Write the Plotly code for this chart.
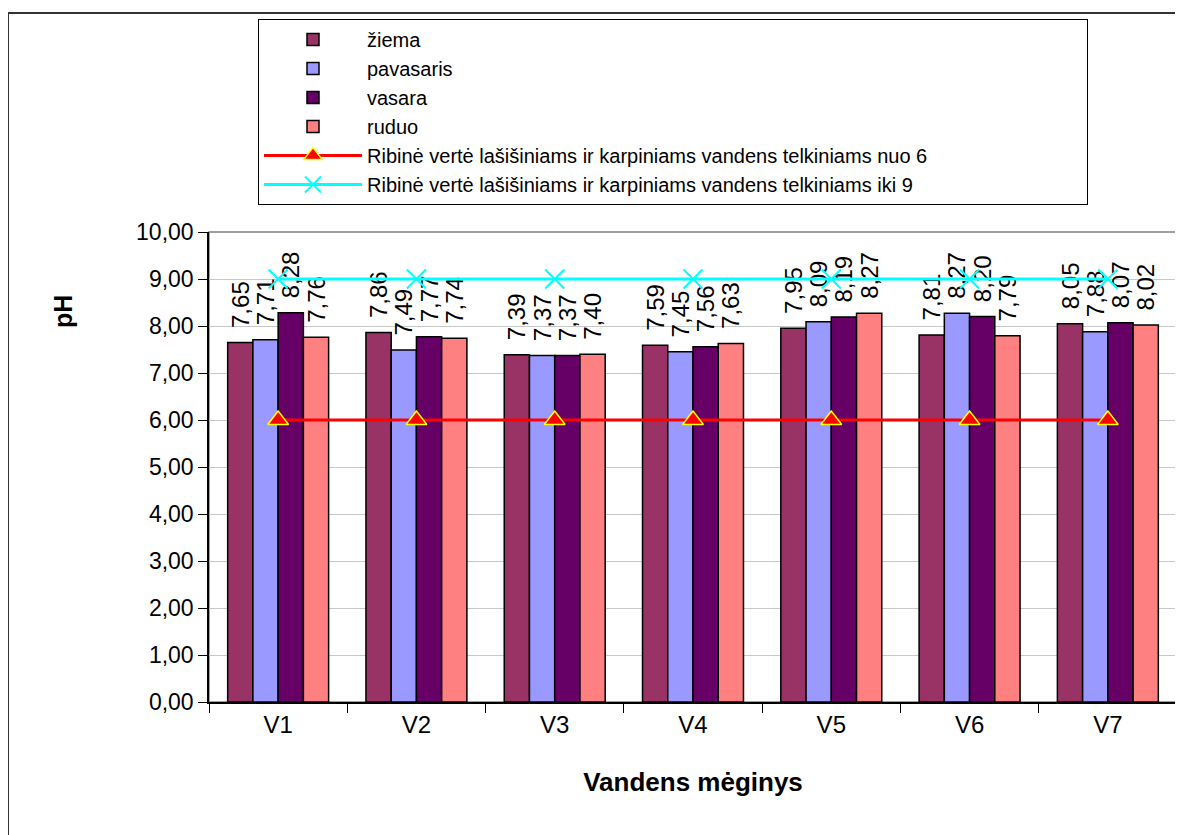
import plotly.graph_objects as go

categories = ["V1", "V2", "V3", "V4", "V5", "V6", "V7"]
ziema = [7.65, 7.86, 7.39, 7.59, 7.95, 7.81, 8.05]
pavasaris = [7.71, 7.49, 7.37, 7.45, 8.09, 8.27, 7.88]
vasara = [8.28, 7.77, 7.37, 7.56, 8.19, 8.20, 8.07]
ruduo = [7.76, 7.74, 7.40, 7.63, 8.27, 7.79, 8.02]
limit_low = [6, 6, 6, 6, 6, 6, 6]
limit_high = [9, 9, 9, 9, 9, 9, 9]
y_ticks = [0, 1, 2, 3, 4, 5, 6, 7, 8, 9, 10]

# page body has an 8px margin: work in reference pixels minus 8
OFF = 8
W, H = 1183 - OFF, 835 - OFF
L, R, T, B = 209 - OFF, 1177 - OFF, 232 - OFF, 702 - OFF
FONT = "Liberation Sans, Arial, sans-serif"

fig = go.Figure()

bar_series = [
    ("žiema", ziema, "#993366"),
    ("pavasaris", pavasaris, "#9999FF"),
    ("vasara", vasara, "#660066"),
    ("ruduo", ruduo, "#FF8080"),
]
for name, vals, color in bar_series:
    fig.add_trace(go.Bar(
        x=categories, y=vals, name=name,
        marker=dict(color=color, line=dict(color="black", width=1.5)),
        texttemplate="\u00a0\u2009%{y:.2f}", textposition="outside", textangle=-90,
        textfont=dict(family=FONT, size=24, color="black"),
        constraintext="none", cliponaxis=False,
    ))

fig.add_trace(go.Scatter(
    x=categories, y=limit_low, mode="lines+markers",
    name="Ribinė vertė lašišiniams ir karpiniams vandens telkiniams nuo 6",
    line=dict(color="#FF0000", width=3),
    marker=dict(symbol="triangle-up", size=18, color="#FF0000",
                line=dict(color="#FFFF00", width=1.5)),
    cliponaxis=False,
))
fig.add_trace(go.Scatter(
    x=categories, y=limit_high, mode="lines+markers",
    name="Ribinė vertė lašišiniams ir karpiniams vandens telkiniams iki 9",
    line=dict(color="#00FFFF", width=3),
    marker=dict(symbol="x-thin", size=19, color="#00FFFF",
                line=dict(color="#00FFFF", width=2)),
    cliponaxis=False,
))

pw, ph = R - L, B - T
def px(x):
    return (x - OFF - L) / pw
def py(y):
    return (B - (y - OFF)) / ph

fig.update_layout(
    width=W, height=H,
    margin=dict(l=L, r=W - R, t=T, b=H - B, pad=0),
    paper_bgcolor="white", plot_bgcolor="white",
    separators=", ",
    barmode="group", bargap=0.27, bargroupgap=0,
    font=dict(family=FONT, size=22, color="black"),
    showlegend=True,
    legend=dict(
        orientation="h",
        x=px(258), y=py(19), xanchor="left", yanchor="top",
        bgcolor="white", bordercolor="black", borderwidth=1,
        font=dict(family=FONT, size=20, color="black"),
        itemwidth=98, tracegroupgap=0, entrywidth=715,
    ),
    xaxis=dict(
        showline=True, linecolor="black", linewidth=1.5,
        ticks="outside", ticklen=9, tickcolor="black", tickson="boundaries",
        tickfont=dict(family=FONT, size=24),
        title=dict(text="<b>Vandens mėginys</b>", font=dict(family=FONT, size=26), standoff=36),
        showgrid=False, zeroline=False,
    ),
    yaxis=dict(
        range=[0, 10], tickvals=y_ticks, tickformat=".2f",
        showline=True, linecolor="black", linewidth=1.5,
        ticks="outside", ticklen=9, tickcolor="black",
        tickfont=dict(family=FONT, size=23),
        showgrid=True, gridcolor="#C8C8C8", gridwidth=1, zeroline=False,
    ),
    annotations=[dict(
        text="<b>pH</b>", textangle=-90, xref="paper", yref="paper",
        x=px(63), y=py(312), xanchor="center", yanchor="middle", showarrow=False,
        font=dict(family=FONT, size=25, color="black"),
    )],
    shapes=[
        dict(type="rect", xref="paper", yref="paper", x0=0, y0=0, x1=1, y1=1,
             line=dict(color="#808080", width=1.5), layer="below"),
        dict(type="rect", xref="paper", yref="paper",
             x0=px(8), y0=py(850), x1=px(1200), y1=py(13),
             line=dict(color="#333333", width=2), layer="below"),
    ],
)

fig.write_html("out.html")
